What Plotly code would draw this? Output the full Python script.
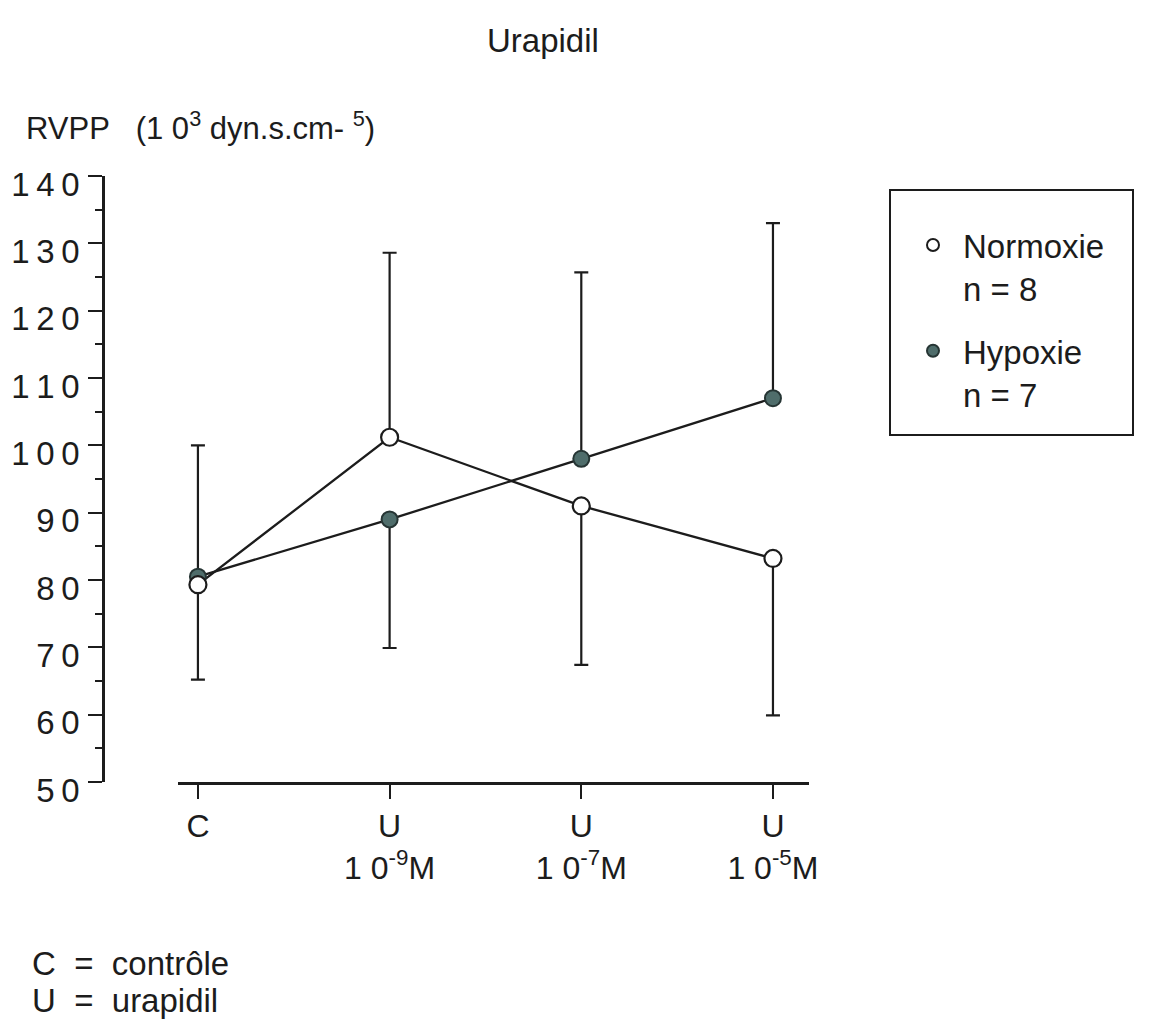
import plotly.graph_objects as go

# ---------------- data ----------------
x_pos = [0, 1, 2, 3]
x_tick_labels = ["C", "U<br>1 0<sup>-9</sup>M", "U<br>1 0<sup>-7</sup>M", "U<br>1 0<sup>-5</sup>M"]

normoxie = [79.3, 101.2, 91.0, 83.2]
normoxie_err_plus = [0.0, 27.4, 0.0, 0.0]
normoxie_err_minus = [14.1, 0.0, 23.6, 23.3]

hypoxie = [80.5, 89.0, 98.0, 107.0]
hypoxie_err_plus = [19.5, 0.0, 27.7, 26.0]
hypoxie_err_minus = [0.0, 19.1, 0.0, 0.0]

y_tick_vals = [50, 60, 70, 80, 90, 100, 110, 120, 130, 140]
y_tick_labels = ["5\u20090", "6\u20090", "7\u20090", "8\u20090", "9\u20090",
                 "1\u20090\u20090", "1\u20091\u20090", "1\u20092\u20090", "1\u20093\u20090", "1\u20094\u20090"]

legend_normoxie = "Normoxie<br>n = 8"
legend_hypoxie = "Hypoxie<br>n = 7"

# ---------------- layout helpers ----------------
OFF = 8                # browser body margin
W, H = 1147, 1012
FONT = "Liberation Sans, Arial, Helvetica, sans-serif"
INK = "#1c1c1c"
HYPO_FILL = "#4f6d6b"
HYPO_EDGE = "#263534"


def fx(p):
    return (p - OFF) / W


def fy(p):
    return 1 - (p - OFF) / H


fig = go.Figure()

# connecting lines with error bars (drawn first, under markers)
fig.add_trace(go.Scatter(
    x=x_pos, y=normoxie, mode="lines", showlegend=False, hoverinfo="skip",
    line=dict(color=INK, width=2.3),
    error_y=dict(type="data", symmetric=False, array=normoxie_err_plus,
                 arrayminus=normoxie_err_minus, color=INK, thickness=2.2, width=7),
))
fig.add_trace(go.Scatter(
    x=x_pos, y=hypoxie, mode="lines", showlegend=False, hoverinfo="skip",
    line=dict(color=INK, width=2.3),
    error_y=dict(type="data", symmetric=False, array=hypoxie_err_plus,
                 arrayminus=hypoxie_err_minus, color=INK, thickness=2.2, width=7),
))

# markers (legend entries)
fig.add_trace(go.Scatter(
    x=x_pos, y=hypoxie, mode="markers", name=legend_hypoxie, legendgroup="h",
    legendrank=2,
    marker=dict(symbol="circle", size=16, color=HYPO_FILL, line=dict(color=HYPO_EDGE, width=2)),
))
fig.add_trace(go.Scatter(
    x=x_pos, y=normoxie, mode="markers", name=legend_normoxie, legendgroup="n",
    legendrank=1,
    marker=dict(symbol="circle", size=17, color="white", line=dict(color=INK, width=2.2)),
))

fig.update_layout(
    width=W, height=H,
    template="none",
    margin=dict(l=0, r=0, t=0, b=0),
    paper_bgcolor="white", plot_bgcolor="white",
    font=dict(family=FONT, color=INK),
    showlegend=True,
    legend=dict(
        x=fx(903), y=fy(217), xanchor="left", yanchor="top",
        font=dict(size=33, family=FONT, color=INK),
        bgcolor="rgba(0,0,0,0)", borderwidth=0,
        itemsizing="constant", valign="top", itemwidth=50,
        tracegroupgap=17, traceorder="grouped",
    ),
    xaxis=dict(
        domain=[fx(178), fx(809)], range=[-0.104, 3.188], anchor="y",
        tickmode="array", tickvals=x_pos, ticktext=x_tick_labels,
        ticks="outside", ticklen=14, tickwidth=2, tickcolor=INK,
        showline=True, linewidth=2.5, linecolor=INK,
        showgrid=False, zeroline=False, automargin=False,
        tickfont=dict(size=32, family=FONT, color=INK),
    ),
    yaxis=dict(
        domain=[fy(782), fy(176)], range=[50, 140], anchor="free", position=fx(103),
        tickmode="array", tickvals=y_tick_vals, ticktext=y_tick_labels,
        ticks="outside", ticklen=14, tickwidth=2, tickcolor=INK,
        minor=dict(dtick=5, tick0=50, ticks="outside", ticklen=7, tickwidth=2, tickcolor=INK),
        showline=True, linewidth=2.5, linecolor=INK,
        showgrid=False, zeroline=False, automargin=False,
        tickfont=dict(size=33, family=FONT, color=INK),
        ticklabelshift=8, ticklabelstandoff=2,
    ),
    shapes=[dict(type="rect", xref="paper", yref="paper",
                 x0=fx(890), x1=fx(1133), y0=fy(435), y1=fy(190),
                 line=dict(color=INK, width=2), fillcolor="rgba(0,0,0,0)")],
    annotations=[
        dict(text="Urapidil", x=fx(543), y=fy(40), xref="paper", yref="paper",
             xanchor="center", yanchor="middle", showarrow=False,
             font=dict(size=33, family=FONT, color=INK)),
        dict(text="RVPP\u00a0\u00a0\u00a0(1\u00a00<sup>3</sup>\u00a0dyn.s.cm-\u00a0<sup>5</sup>)",
             x=fx(24), y=fy(126), xref="paper", yref="paper",
             xanchor="left", yanchor="middle", showarrow=False,
             font=dict(size=31, family=FONT, color=INK)),
        dict(text="C\u00a0\u00a0=\u00a0\u00a0contrôle", x=fx(30), y=fy(963), xref="paper", yref="paper",
             xanchor="left", yanchor="middle", showarrow=False,
             font=dict(size=33, family=FONT, color=INK)),
        dict(text="U\u00a0\u00a0=\u00a0\u00a0urapidil", x=fx(30), y=fy(1000), xref="paper", yref="paper",
             xanchor="left", yanchor="middle", showarrow=False,
             font=dict(size=33, family=FONT, color=INK)),
    ],
)

fig.write_html("out.html")
